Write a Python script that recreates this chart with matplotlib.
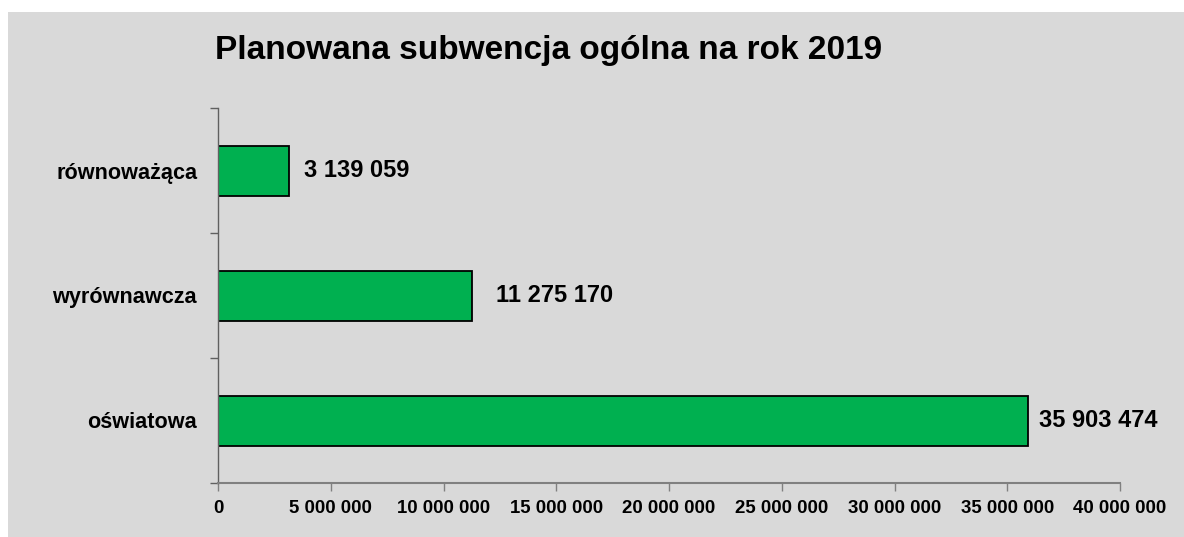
import matplotlib
matplotlib.use("Agg")
import matplotlib.pyplot as plt
from matplotlib.patches import Rectangle
from matplotlib.ticker import FixedLocator

categories = ["oświatowa", "wyrównawcza", "równoważąca"]
values = [35903474, 11275170, 3139059]
xticks = [0, 5000000, 10000000, 15000000, 20000000, 25000000, 30000000, 35000000, 40000000]
title = "Planowana subwencja ogólna na rok 2019"
label_offsets_px = [11, 24, 15]

def fmt(v):
    return f"{v:,}".replace(",", " ")

plt.rcParams['font.family'] = ['Liberation Sans', 'DejaVu Sans']

fig = plt.figure(figsize=(11.84, 5.37), dpi=100)
fig.patch.set_facecolor("white")
bg = Rectangle((8/1184, 0), 1 - 8/1184, (537 - 12)/537, transform=fig.transFigure,
               facecolor="#D9D9D9", edgecolor="none", zorder=-10)
fig.patches.append(bg)

ax = fig.add_axes([218/1184, 54/537, (1120-218)/1184, (483-108)/537])
ax.set_facecolor("none")

y = list(range(len(categories)))
ax.barh(y, values, height=0.4, color="#00B050", edgecolor="black", linewidth=1.3)

ax.set_xlim(0, 40000000)
ax.set_ylim(-0.5, len(categories) - 0.5)

ax.set_xticks(xticks)
ax.set_xticklabels([fmt(t) for t in xticks], fontsize=13.4, fontweight="bold")
ax.set_yticks(y)
ax.set_yticklabels(categories, fontsize=15.6, fontweight="bold")
ax.yaxis.set_minor_locator(FixedLocator([-0.5, 0.5, 1.5, 2.5]))
ax.tick_params(axis="y", which="major", length=0, pad=15)
ax.tick_params(axis="y", which="minor", length=6, width=1, color="#606060", direction="out")
ax.tick_params(axis="x", which="major", length=6, width=1, color="#808080", direction="out", pad=6)

for s in ["top", "right"]:
    ax.spines[s].set_visible(False)
ax.spines["left"].set_color("#606060")
ax.spines["left"].set_linewidth(1.0)
ax.spines["bottom"].set_color("#808080")
ax.spines["bottom"].set_linewidth(1.5)

for yi, v, off in zip(y, values, label_offsets_px):
    ax.annotate(fmt(v), xy=(v, yi), xytext=(off, 0), textcoords="offset pixels",
                va="center", ha="left", fontsize=17, fontweight="bold")

fig.text(215/1184, (537 - 59)/537, title, fontsize=24, fontweight="bold",
         ha="left", va="baseline")

fig.savefig("out.png", dpi=100, facecolor=fig.get_facecolor())
